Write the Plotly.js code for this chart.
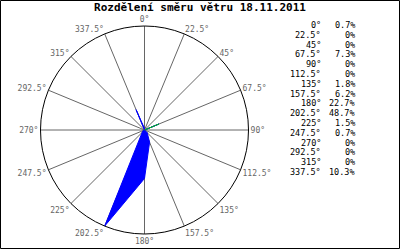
<!DOCTYPE html>
<html>
<head>
<meta charset="utf-8">
<script src="https://cdn.plot.ly/plotly-3.0.1.min.js"></script>
<style>html,body{margin:0;padding:0;background:#fff}#chart{width:400px;height:250px}</style>
</head>
<body>
<div id="chart"></div>
<script>
const chartTitle = "Rozdělení směru větru 18.11.2011";
const directions = [0, 22.5, 45, 67.5, 90, 112.5, 135, 157.5, 180, 202.5, 225, 247.5, 270, 292.5, 315, 337.5];
const percents = [0.7, 0, 0, 7.3, 0, 0, 1.8, 6.2, 22.7, 48.7, 1.5, 0.7, 0, 0, 0, 10.3];
const directionLabels = ["0°", "22.5°", "45°", "67.5°", "90°", "112.5°", "135°", "157.5°", "180°", "202.5°", "225°", "247.5°", "270°", "292.5°", "315°", "337.5°"];
const percentLabels = ["0.7%", "0%", "0%", "7.3%", "0%", "0%", "1.8%", "6.2%", "22.7%", "48.7%", "1.5%", "0.7%", "0%", "0%", "0%", "10.3%"];
const highlightDirection = 67.5;

const W = 400, H = 250;
const cx = 144.5, cy = 130, R = 104;
const mono = "DejaVu Sans Mono, Liberation Mono, monospace";

const hi = directions.indexOf(highlightDirection);
const traces = [
  {
    type: "scatterpolar",
    r: percents.concat([percents[0]]),
    theta: directions.concat([directions[0]]),
    mode: "lines",
    fill: "toself",
    fillcolor: "#0000ff",
    line: {color: "#0000ff", width: 1},
    hoverinfo: "skip"
  },
  {
    type: "scatterpolar",
    r: [0, percents[hi]],
    theta: [directions[hi], directions[hi]],
    mode: "lines",
    line: {color: "#00cc00", width: 1},
    hoverinfo: "skip"
  }
];

const annotations = [];
const rowTop = 25, rowStep = 9.8;
directions.forEach((d, i) => {
  const yp = 1 - (rowTop + i * rowStep) / H;
  annotations.push({
    xref: "paper", yref: "paper", x: 323 / W, y: yp,
    xanchor: "right", yanchor: "middle", showarrow: false,
    text: directionLabels[i],
    font: {family: mono, size: 8.5, color: "#000"}
  });
  annotations.push({
    xref: "paper", yref: "paper", x: 357 / W, y: yp,
    xanchor: "right", yanchor: "middle", showarrow: false,
    text: percentLabels[i],
    font: {family: mono, size: 8.5, color: "#000"}
  });
});

const layout = {
  width: W, height: H,
  margin: {l: 0, r: 0, t: 0, b: 0},
  paper_bgcolor: "#fff",
  showlegend: false,
  title: {
    text: "<b>" + chartTitle + "</b>",
    x: 0.5, xanchor: "center", y: 1 - 7.5 / H, yanchor: "middle",
    font: {family: mono, size: 11, color: "#000"}
  },
  polar: {
    domain: {x: [(cx - R) / W, (cx + R) / W], y: [1 - (cy + R) / H, 1 - (cy - R) / H]},
    bgcolor: "#fff",
    radialaxis: {visible: false, range: [0, Math.max(...percents)], showgrid: false},
    angularaxis: {
      rotation: 90, direction: "clockwise",
      tickmode: "array", tickvals: directions, ticktext: directionLabels,
      ticks: "", ticklen: 0,
      showline: true, linecolor: "#000", linewidth: 1,
      showgrid: true, gridcolor: "#666", gridwidth: 1,
      tickfont: {family: mono, size: 8, color: "#666"}
    }
  },
  annotations: annotations,
  shapes: [{
    type: "rect", xref: "paper", yref: "paper",
    x0: 0.5 / W, x1: 399.5 / W, y0: 1 - 248.5 / H, y1: 1 - 0.5 / H,
    line: {color: "#000", width: 1}
  }]
};

Plotly.newPlot("chart", traces, layout, {staticPlot: true, displayModeBar: false});
</script>
</body>
</html>
